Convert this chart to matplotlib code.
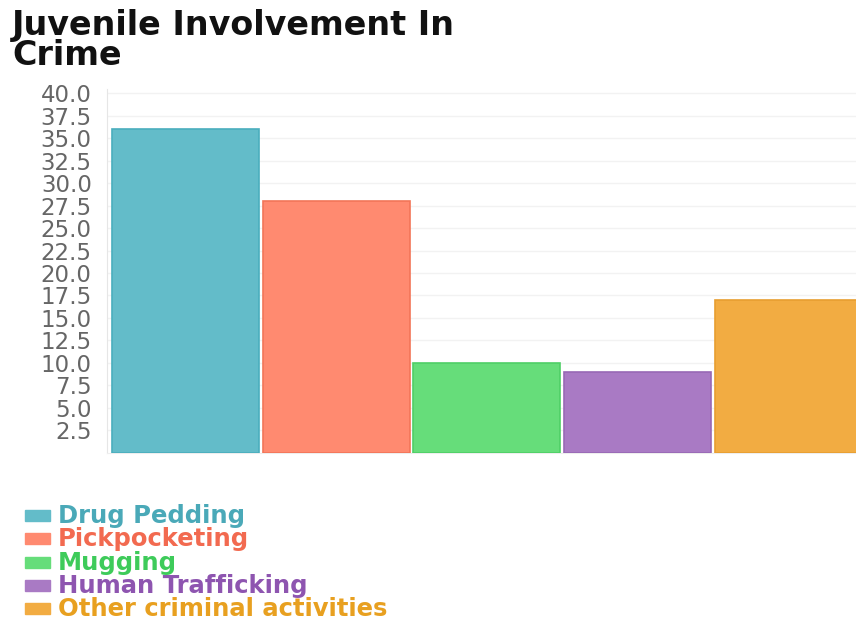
import matplotlib.pyplot as plt
import matplotlib.patches as mpatches
import numpy as np

# data
categories = ["Drug Pedding", "Pickpocketing", "Mugging",
              "Human Trafficking", "Other criminal activities"]
values = [36, 28, 10, 9, 17]
bar_colors = ["#63bcc9", "#ff8a70", "#66dd7a", "#a97ac4", "#f2ac42"]
edge_colors = ["#4aaebd", "#f27558", "#4fcf66", "#9868b5", "#e89e30"]
text_colors = ["#4aa9b8", "#f26a50", "#3ecb5a", "#8e55b0", "#e8a020"]
yticks = np.arange(2.5, 40.1, 2.5)

fig = plt.figure(figsize=(8.56, 6.2), dpi=100)
ax = fig.add_axes([0.125, 0.2694, 0.875, 0.5878])

x = np.arange(len(categories))
ax.bar(x, values, width=0.975, color=bar_colors, edgecolor=edge_colors,
       linewidth=1.2, zorder=3)

ax.set_xlim(-0.52, 4.45)
ax.set_ylim(0, 40.5)
ax.set_yticks(yticks)
ax.set_yticklabels([f"{t:.1f}" for t in yticks])
ax.set_xticks([])
ax.tick_params(axis="y", length=0, pad=11, labelsize=16.5, labelcolor="#666666")
ax.grid(axis="y", color="#f2f2f2", linewidth=1, zorder=0)

for s in ["top", "right"]:
    ax.spines[s].set_visible(False)
ax.spines["left"].set_color("#e6e6e6")
ax.spines["bottom"].set_color("#eeeeee")

# title, top left
fig.text(12 / 856, 1 - 9 / 620, "Juvenile Involvement In\nCrime",
         fontsize=24, fontweight="bold", color="#111111",
         ha="left", va="top", linespacing=0.9)

# legend drawn by hand: coloured square + coloured bold label
for i, (lab, bc, tc) in enumerate(zip(categories, bar_colors, text_colors)):
    yc = 516 + i * 23.3
    fig.patches.append(mpatches.Rectangle(
        (25 / 856, 1 - (yc + 5) / 620), 25 / 856, 11 / 620,
        transform=fig.transFigure, color=bc, figure=fig))
    fig.text(58 / 856, 1 - yc / 620, lab, fontsize=17.5, fontweight="bold",
             color=tc, ha="left", va="center")

fig.savefig("out.png", dpi=100)
